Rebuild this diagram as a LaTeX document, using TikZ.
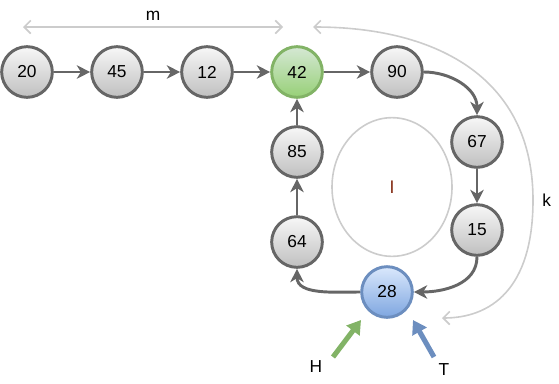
\documentclass[tikz,border=0pt]{standalone}
\usepackage{fontspec}
\setmainfont{Liberation Sans}
\usepackage{tikz}
\usetikzlibrary{arrows.meta,shapes.geometric}

\definecolor{edgegray}{HTML}{666666}
\definecolor{dimgray}{HTML}{CCCCCC}
\definecolor{hgreen}{HTML}{82B366}
\definecolor{tblue}{HTML}{6C8EBF}
\definecolor{lred}{HTML}{7A1A00}
\definecolor{gtop}{HTML}{D5E8D4}
\definecolor{gbot}{HTML}{97D077}
\definecolor{btop}{HTML}{DAE8FC}
\definecolor{bbot}{HTML}{7EA6E0}

\begin{document}
\begin{tikzpicture}[x=0.75pt,y=-0.75pt,font=\fontsize{13}{15}\selectfont,
  cell/.style n args={3}{circle,draw=#1,line width=2.2pt,minimum size=38pt,inner sep=0pt,top color=#2,bottom color=#3},
  grey/.style={cell={edgegray}{gray!6}{gray!50}},
  link/.style={draw=edgegray,line width=2.2pt,-{Stealth[length=10pt,width=10pt,inset=3pt]}},
  dim/.style={draw=dimgray,line width=1.2pt,{Straight Barb[length=5pt,width=10pt]}-{Straight Barb[length=5pt,width=10pt]}},
  ptr/.style={draw=#1,line width=3.8pt,-{Triangle[length=10pt,width=12pt]}}]
\useasboundingbox (0,0) rectangle (559,383);
% list nodes
\foreach \x/\v in %
{27/20,117/45,207/12} {
   \node[grey] (n\v) at (\x,72) {\v};
}
\node[cell={hgreen}{gtop}{gbot}] (n42) at (297,72) {42};
\node[grey] (n90) at (397,72) {90};
\node[grey] (n67) at (477,142) {67};
\node[grey] (n15) at (477,230) {15};
\node[cell={tblue}{btop}{bbot}] (n28) at (387,292) {28};
\node[grey] (n64) at (297,242) {64};
\node[grey] (n85) at (297,152) {85};
% loop region
\node[ellipse,draw=dimgray,line width=1.2pt,minimum width=90pt,minimum height=104pt,text=lred] (loop) at (392,187) {l};
% links
\draw[link] (n20) -- (n45);
\draw[link] (n45) -- (n12);
\draw[link] (n12) -- (n42);
\draw[link] (n42) -- (n90);
\draw[link] (n90.east) to[out=0,in=90] (n67.north);
\draw[link] (n67) -- (n15);
\draw[link] (n15.south) to[out=-90,in=0] (n28.east);
\draw[link] (n28.west) to[out=180,in=-90] (n64.south);
\draw[link] (n64) -- (n85);
\draw[link] (n85) -- (n42);
% lengths
\coordinate (ma) at (23,27);
\coordinate (mb) at (283,27);
\draw[dim] (ma) -- (mb) node[midway,above=1pt] (mlbl) {m};
\coordinate (ka) at (313,27);
\coordinate (kb) at (442,318);
\draw[dim] (ka) .. controls (440,27) and (533,80) .. (533,200)
   node[right=3pt] (klbl) {k}
   .. controls (533,290) and (490,318) .. (kb);
% pointers
\node (hlbl) at (316,367) {H};
\node (tlbl) at (444,370) {T};
\coordinate (ha) at (333,357);
\coordinate (hb) at (361,320);
\coordinate (ta) at (434,357);
\coordinate (tb) at (413,320);
\draw[ptr=hgreen] (ha) -- (hb);
\draw[ptr=tblue] (ta) -- (tb);
\end{tikzpicture}
\end{document}
